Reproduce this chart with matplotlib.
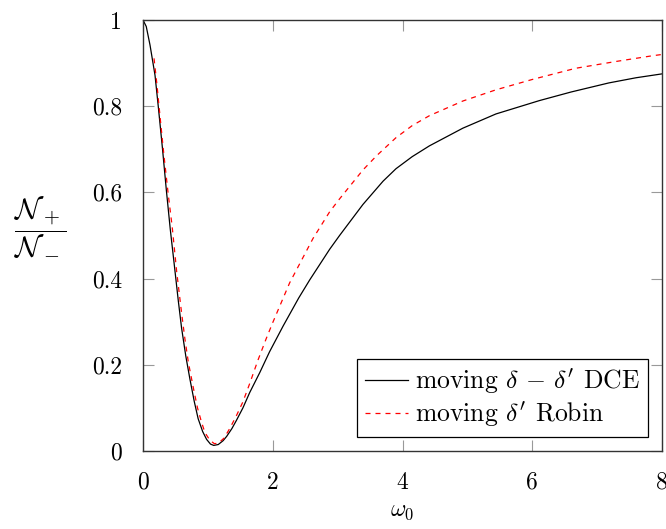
import numpy as np
import matplotlib
matplotlib.use('Agg')
import matplotlib.pyplot as plt

plt.rcParams['font.family'] = ['cmr10', 'DejaVu Serif']
plt.rcParams['mathtext.fontset'] = 'cm'
plt.rcParams['axes.formatter.use_mathtext'] = True

# moving delta - delta' DCE
omega_dce = [0.0, 0.05, 0.108, 0.185, 0.235, 0.30, 0.36, 0.42, 0.48, 0.543, 0.595, 0.66, 0.723,
             0.79, 0.85, 0.92, 0.98, 1.04, 1.09, 1.16, 1.235, 1.29, 1.37, 1.44, 1.54, 1.646, 1.8,
             1.95, 2.16, 2.4, 2.57, 2.877, 3.03, 3.39, 3.7, 3.9, 4.15, 4.415, 4.93, 5.44, 6.11,
             6.6, 7.18, 7.6, 8.0]
ratio_dce = [1.0, 0.985, 0.942, 0.872, 0.80, 0.702, 0.605, 0.515, 0.435, 0.35, 0.285, 0.22, 0.167,
             0.115, 0.075, 0.045, 0.027, 0.016, 0.013, 0.015, 0.024, 0.034, 0.052, 0.071, 0.100,
             0.136, 0.182, 0.23, 0.29, 0.355, 0.397, 0.468, 0.50, 0.572, 0.626, 0.655, 0.683,
             0.708, 0.749, 0.782, 0.813, 0.833, 0.854, 0.866, 0.875]

# moving delta' Robin
omega_rob = [0.17, 0.215, 0.26, 0.32, 0.39, 0.45, 0.52, 0.595, 0.646, 0.70, 0.774, 0.84, 0.90,
             0.954, 1.03, 1.10, 1.16, 1.25, 1.34, 1.44, 1.54, 1.646, 1.77, 1.9, 2.0, 2.26, 2.62,
             2.877, 3.03, 3.39, 3.6, 3.9, 4.15, 4.415, 4.93, 5.44, 6.0, 6.67, 7.3, 7.85, 8.0]
ratio_rob = [0.911, 0.85, 0.78, 0.69, 0.594, 0.52, 0.415, 0.32, 0.26, 0.205, 0.148, 0.10, 0.068,
             0.043, 0.025, 0.017, 0.018, 0.030, 0.053, 0.082, 0.114, 0.157, 0.21, 0.261, 0.298,
             0.39, 0.493, 0.555, 0.585, 0.652, 0.685, 0.727, 0.755, 0.778, 0.812, 0.838, 0.862,
             0.888, 0.904, 0.917, 0.92]

xticks = [0, 2, 4, 6, 8]
yticks = [0, 0.2, 0.4, 0.6, 0.8, 1]
ytick_labels = ['0', '0.2', '0.4', '0.6', '0.8', '1']

fig = plt.figure(figsize=(6.66, 5.29), dpi=100)
ax = fig.add_axes([143/666, 78/529, 519/666, 431/529])

ax.plot(omega_dce, ratio_dce, color='black', lw=0.9, label=r"moving $\delta\,-\,\delta'$ DCE")
ax.plot(omega_rob, ratio_rob, color='red', lw=0.9, dashes=(4, 4), label=r"moving $\delta'$ Robin")

ax.set_xlim(0, 8)
ax.set_ylim(0, 1)
ax.set_xticks(xticks)
ax.set_xticklabels([str(t) for t in xticks])
ax.set_yticks(yticks)
ax.set_yticklabels(ytick_labels)
ax.tick_params(direction='in', length=8, width=0.8, color='#999999', labelsize=17,
               top=True, right=True, pad=15)
for s in ax.spines.values():
    s.set_color('#333333')
    s.set_linewidth(1.0)

ax.set_xlabel(r'$\omega_0$', fontsize=17, labelpad=4)
fig.text(40/666, 1 - 226/529, r'$\dfrac{\mathcal{N}_+}{\mathcal{N}_-}$', fontsize=21,
         ha='center', va='center')

leg = ax.legend(loc='lower right', fontsize=18.5, frameon=True, fancybox=False,
                edgecolor='black', framealpha=1, handlelength=1.65, handletextpad=0.3,
                borderpad=0.3, labelspacing=0.15, borderaxespad=0.55)
leg.get_frame().set_linewidth(0.9)

fig.savefig('out.png', dpi=100)
